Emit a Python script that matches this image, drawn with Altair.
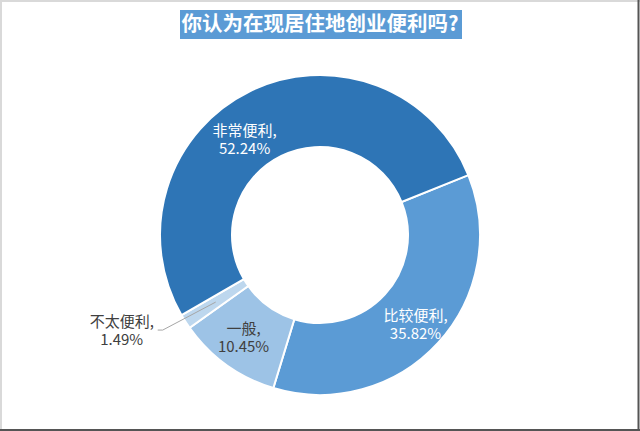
import math
import altair as alt
import pandas as pd

# ---- data ----
categories = ["比较便利", "一般", "不太便利", "非常便利"]
values = [35.82, 10.45, 1.49, 52.24]
slice_colors = ["#5B9BD5", "#9DC3E6", "#BDD7EE", "#2E75B6"]
title_text = "你认为在现居住地创业便利吗?"

FONT = "Noto Sans CJK SC"
W, H = 640, 431
CX, CY = 320, 235
R_OUT, R_IN = 160, 88
R_LAB = 124
START = math.radians(68)
THETA_RANGE = [START, START + 2 * math.pi]

df = pd.DataFrame({"cat": categories, "value": values, "order": list(range(len(categories)))})
cum = df["value"].cumsum()
df["mid"] = cum - df["value"] / 2
df["label"] = [f"{c},\n{v:.2f}%" for c, v in zip(categories, values)]
total = df["value"].sum()

base = alt.Chart(df)

arc = base.mark_arc(outerRadius=R_OUT, innerRadius=R_IN, stroke="white", strokeWidth=2).encode(
    theta=alt.Theta("value:Q", stack=True, scale=alt.Scale(range=THETA_RANGE)),
    order=alt.Order("order:Q"),
    color=alt.Color("cat:N", scale=alt.Scale(domain=categories, range=slice_colors), legend=None),
    x=alt.value(CX),
    y=alt.value(CY),
)

theta_mid = alt.Theta("mid:Q", stack=None, scale=alt.Scale(domain=[0, total], range=THETA_RANGE))


def label_layer(cat, color, dx=0, dy=0):
    return (
        base.transform_filter(alt.datum.cat == cat)
        .mark_text(radius=R_LAB, fontSize=15, font=FONT, lineBreak="\n", lineHeight=18,
                   align="center", baseline="middle", color=color, dx=dx, dy=dy)
        .encode(theta=theta_mid, text="label:N", x=alt.value(CX), y=alt.value(CY))
    )


lab_big = label_layer("非常便利", "white", dx=-21, dy=7)
lab_2 = label_layer("比较便利", "white", dx=4, dy=-3)
lab_3 = label_layer("一般", "#404040", dx=-4, dy=-7)
lab_4 = label_layer("不太便利", "#404040", dx=-94, dy=20)

# leader line for the small slice, derived from its mid angle
small = df[df["cat"] == "不太便利"].iloc[0]
ang = START + 2 * math.pi * small["mid"] / total
px = CX + R_LAB * math.sin(ang)
py = CY - R_LAB * math.cos(ang)
one = alt.Chart(pd.DataFrame({"k": [0]}))
lead1 = one.mark_rule(color="#a6a6a6", strokeWidth=1).encode(
    x=alt.value(px), y=alt.value(py), x2=alt.value(px - 53), y2=alt.value(py + 28))
lead2 = one.mark_rule(color="#a6a6a6", strokeWidth=1).encode(
    x=alt.value(px - 53), y=alt.value(py + 28), x2=alt.value(px - 58), y2=alt.value(py + 28))

# title banner
title_box = one.mark_rect(color="#5B9BD5").encode(
    x=alt.value(180), x2=alt.value(462), y=alt.value(10), y2=alt.value(39))
title = one.mark_text(text=title_text, font=FONT, fontSize=20.5, fontWeight="bold", color="white",
                      align="center", baseline="middle").encode(x=alt.value(320), y=alt.value(25))

# frame
top = one.mark_rule(color="#d9d9d9", strokeWidth=2).encode(
    x=alt.value(0), x2=alt.value(W), y=alt.value(1), y2=alt.value(1))
left = one.mark_rule(color="#d9d9d9", strokeWidth=2).encode(
    x=alt.value(1), x2=alt.value(1), y=alt.value(0), y2=alt.value(H))
right = one.mark_rule(color="#555555", strokeWidth=2).encode(
    x=alt.value(638.5), x2=alt.value(638.5), y=alt.value(0), y2=alt.value(H))
bottom = one.mark_rule(color="#555555", strokeWidth=2).encode(
    x=alt.value(0), x2=alt.value(W), y=alt.value(430), y2=alt.value(430))

chart = (
    alt.layer(arc, lead1, lead2, lab_big, lab_2, lab_3, lab_4, title_box, title, top, left, right, bottom)
    .properties(width=W, height=H, padding=0, autosize="none", background="white")
    .configure_view(stroke=None)
)

chart.save("out.html", embed_options={"renderer": "svg", "actions": False})
